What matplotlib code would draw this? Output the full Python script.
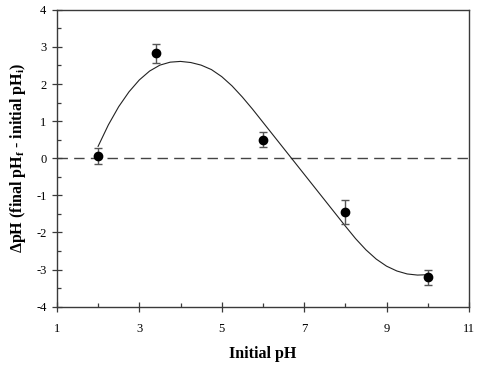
import matplotlib
import numpy as np

matplotlib.use("Agg")
import matplotlib.pyplot as plt  # noqa: E402
from matplotlib.ticker import MultipleLocator  # noqa: E402

# measured points (initial pH, delta pH, error)
initial_ph = [2.0, 3.4, 6.0, 8.0, 10.0]
delta_ph = [0.06, 2.83, 0.50, -1.45, -3.21]
delta_err = [0.22, 0.25, 0.20, 0.33, 0.21]

# fitted curve
curve_x = [2.0, 2.25, 2.5, 2.75, 3.0, 3.25, 3.5, 3.75, 4.0, 4.25, 4.5, 4.75,
           5.0, 5.25, 5.5, 5.75, 6.0, 6.25, 6.5, 6.75, 7.0, 7.25, 7.5, 7.75,
           8.0, 8.25, 8.5, 8.75, 9.0, 9.25, 9.5, 9.75, 10.0]
curve_y = [0.32, 0.90, 1.39, 1.79, 2.11, 2.35, 2.51, 2.59, 2.61, 2.58, 2.51, 2.39,
           2.20, 1.95, 1.65, 1.32, 0.97, 0.62, 0.27, -0.08, -0.43, -0.78, -1.13, -1.48,
           -1.83, -2.17, -2.47, -2.72, -2.91, -3.04, -3.12, -3.15, -3.14]

x_ticks = [1, 3, 5, 7, 9, 11]
y_ticks = [-4, -3, -2, -1, 0, 1, 2, 3, 4]

plt.rcParams["font.family"] = ["Liberation Serif", "DejaVu Serif"]
plt.rcParams["axes.unicode_minus"] = False
plt.rcParams["mathtext.fontset"] = "custom"
plt.rcParams["mathtext.rm"] = "Liberation Serif:bold"
plt.rcParams["mathtext.bf"] = "Liberation Serif:bold"
plt.rcParams["mathtext.it"] = "Liberation Serif:bold"

axis_color = "#3a3a3a"

fig = plt.figure(figsize=(4.82, 3.65), dpi=100)
ax = fig.add_axes([0.118, 0.160, 0.855, 0.813])

ax.axhline(0, color="#444444", lw=1.0, dashes=(7.5, 4.5), zorder=1)
ax.plot(curve_x, curve_y, color="#222222", lw=0.8, zorder=2)
ax.errorbar(initial_ph, delta_ph, yerr=delta_err, fmt="o", color="black",
            markersize=6, ecolor="#555555", elinewidth=1.0, capsize=3,
            capthick=1.0, zorder=3)

ax.set_xlim(1, 11)
ax.set_ylim(-4, 4)
ax.set_xticks(x_ticks)
ax.set_yticks(y_ticks)
ax.xaxis.set_minor_locator(MultipleLocator(1))
ax.yaxis.set_minor_locator(MultipleLocator(0.5))

for side in ("top", "right", "left", "bottom"):
    ax.spines[side].set_color(axis_color)
    ax.spines[side].set_linewidth(1.0)

ax.tick_params(which="major", direction="inout", length=7, width=0.9,
               color=axis_color, labelsize=9, pad=4, top=False, right=False)
ax.tick_params(which="minor", direction="in", length=3, width=0.9,
               color=axis_color, top=False, right=False)
ax.tick_params(axis="x", pad=8)

ax.set_xlabel("Initial pH", fontsize=11.5, fontweight="bold", labelpad=8)
ax.set_ylabel(r"$\Delta$pH (final pH$_\mathregular{f}$ - initial pH$_\mathregular{i}$)",
              fontsize=11.5, fontweight="bold", labelpad=6)

fig.savefig("out.png", dpi=100)
plt.close(fig)
